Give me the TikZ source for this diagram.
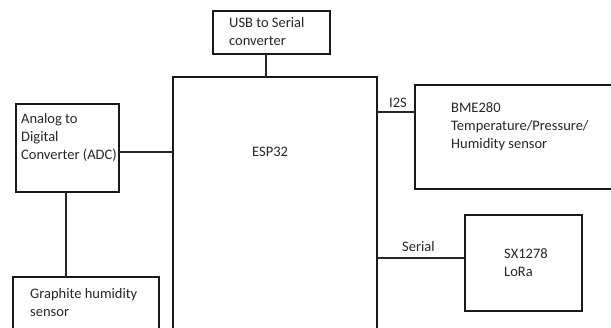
\documentclass[tikz,border=0pt]{standalone}
\usepackage{fontspec}
\setmainfont{Carlito}
\begin{document}
\begin{tikzpicture}[x=1pt,y=-1pt,
  box/.style={draw=black!90, line width=1.8pt, rectangle, inner sep=0pt, outer sep=0pt, anchor=north west},
  wire/.style={draw=black!85, line width=1.7pt},
  txt/.style={anchor=base west, inner sep=0pt, font=\fontsize{14.5}{18}\selectfont, text=black!85}]
\useasboundingbox (0,0) rectangle (611,327);
\clip (0,0) rectangle (611,327);
% boxes
\node[box, minimum width=117pt, minimum height=43pt] (usb) at (213,11) {};
\node[box, minimum width=204pt, minimum height=263pt] (esp) at (173,77) {};
\node[box, minimum width=103pt, minimum height=88pt] (adc) at (16,104) {};
\node[box, minimum width=146pt, minimum height=63pt] (gra) at (13,277) {};
\node[box, minimum width=210pt, minimum height=104pt] (bme) at (415,85) {};
\node[box, minimum width=117pt, minimum height=96pt] (sx) at (465,215) {};
% connectors
\draw[wire] ([xshift=-5.5pt]usb.south) -- ([xshift=-5.5pt]usb.south |- esp.north);
\draw[wire] ([yshift=-4pt]adc.east) -- ([yshift=-4pt]adc.east -| esp.west);
\draw[wire] ([xshift=-1.5pt]adc.south) -- ([xshift=-1.5pt]adc.south |- gra.north);
\draw[wire] ([yshift=25pt]bme.west) -- ([yshift=25pt]bme.west -| esp.east);
\draw[wire] ([yshift=5pt]sx.west) -- ([yshift=5pt]sx.west -| esp.east);
% texts
\node[txt] (t1) at (229,27) {USB to Serial};
\node[txt] (t2) at (229,45) {converter};
\node[txt] (t3) at (252,156) {ESP32};
\node[txt] (t4) at (21,123) {Analog to};
\node[txt] (t5) at (21,141) {Digital};
\node[txt] (t6) at (21,159) {Converter (ADC)};
\node[txt] (t7) at (451,112) {BME280};
\node[txt] (t8) at (451,130) {Temperature/Pressure/};
\node[txt] (t9) at (451,148) {Humidity sensor};
\node[txt] (t10) at (389,107) {I2S};
\node[txt] (t11) at (30,298) {Graphite humidity};
\node[txt] (t12) at (30,316) {sensor};
\node[txt] (t13) at (504,258) {SX1278};
\node[txt] (t14) at (504,276) {LoRa};
\node[txt] (t15) at (402,251) {Serial};
\end{tikzpicture}
\end{document}
